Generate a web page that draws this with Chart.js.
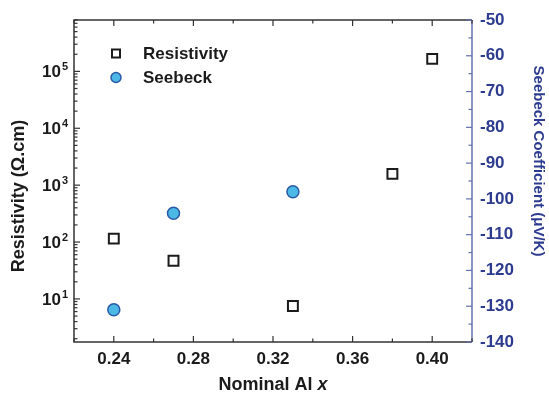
<!DOCTYPE html>
<html>
<head>
<meta charset="utf-8">
<script src="https://cdn.jsdelivr.net/npm/chart.js@4.4.0/dist/chart.umd.min.js"></script>
<style>
  html, body { margin: 0; padding: 0; background: #fff; }
</style>
</head>
<body>
<canvas id="chart" width="549" height="394"></canvas>
<script>
// Resistivity (log, left axis) and Seebeck (linear, right axis) vs nominal Al content
const alContent = [0.24, 0.27, 0.33, 0.38, 0.40];
const resistivity = [115, 47, 7.5, 1580, 166000];
const seebeckAl = [0.24, 0.27, 0.33];
const seebeck = [-131, -104, -98];

const xTicks = [0.24, 0.28, 0.32, 0.36, 0.40];
const xMinorTicks = [0.22, 0.26, 0.30, 0.34, 0.38, 0.42];
const rhoExponents = [1, 2, 3, 4, 5];
const seebeckTicks = [-50, -60, -70, -80, -90, -100, -110, -120, -130, -140];

const FONT = '"Liberation Sans", Arial, sans-serif';
const INK = '#1b1b1b';
const BLUE = '#2c3b8f';
const BLUE_LINE = '#6470ae';

const decor = {
  id: 'decor',
  afterDraw(chart) {
    const { ctx, chartArea: a, scales: { x, y, y1 } } = chart;
    ctx.save();

    // frame
    ctx.lineWidth = 1.5;
    ctx.strokeStyle = '#333';
    ctx.beginPath();
    ctx.moveTo(a.right, a.top);
    ctx.lineTo(a.left, a.top);
    ctx.lineTo(a.left, a.bottom);
    ctx.lineTo(a.right, a.bottom);
    ctx.stroke();
    ctx.strokeStyle = BLUE_LINE;
    ctx.beginPath();
    ctx.moveTo(a.right, a.top);
    ctx.lineTo(a.right, a.bottom);
    ctx.stroke();

    // inward ticks, x (bottom + top)
    ctx.strokeStyle = '#333';
    ctx.lineWidth = 1.2;
    const xt = (v, len) => {
      const px = x.getPixelForValue(v);
      ctx.beginPath();
      ctx.moveTo(px, a.bottom); ctx.lineTo(px, a.bottom - len);
      ctx.moveTo(px, a.top); ctx.lineTo(px, a.top + len);
      ctx.stroke();
    };
    xTicks.forEach(v => xt(v, 6));
    xMinorTicks.forEach(v => xt(v, 3.5));

    // left log ticks
    for (let d = 0; d <= 5; d++) {
      for (let m = 1; m <= 9; m++) {
        const v = m * Math.pow(10, d);
        if (v < y.min || v > y.max) continue;
        const py = y.getPixelForValue(v);
        ctx.beginPath();
        ctx.moveTo(a.left, py);
        ctx.lineTo(a.left + (m === 1 ? 6 : 3.5), py);
        ctx.stroke();
      }
    }

    // right ticks
    ctx.strokeStyle = BLUE_LINE;
    seebeckTicks.forEach(v => {
      let py = y1.getPixelForValue(v);
      ctx.beginPath();
      ctx.moveTo(a.right, py); ctx.lineTo(a.right - 6, py);
      ctx.stroke();
      if (v > -140) {
        py = y1.getPixelForValue(v - 5);
        ctx.beginPath();
        ctx.moveTo(a.right, py); ctx.lineTo(a.right - 3.5, py);
        ctx.stroke();
      }
    });

    // left tick labels 10^n
    ctx.fillStyle = INK;
    rhoExponents.forEach(e => {
      const py = y.getPixelForValue(Math.pow(10, e));
      ctx.font = 'bold 17px ' + FONT;
      ctx.textAlign = 'right';
      ctx.textBaseline = 'middle';
      ctx.fillText('10', 61, py + 1);
      ctx.font = 'bold 11px ' + FONT;
      ctx.textAlign = 'left';
      ctx.textBaseline = 'alphabetic';
      ctx.fillText(String(e), 62, py - 1);
    });

    // left title
    ctx.save();
    ctx.translate(19, 196);
    ctx.rotate(-Math.PI / 2);
    ctx.font = 'bold 18px ' + FONT;
    ctx.textAlign = 'center';
    ctx.textBaseline = 'middle';
    ctx.fillText('Resistivity (\u03A9.cm)', 0, 0);
    ctx.restore();

    // right title
    ctx.save();
    ctx.translate(538, 161);
    ctx.rotate(Math.PI / 2);
    ctx.font = 'bold 15px ' + FONT;
    ctx.fillStyle = BLUE;
    ctx.textAlign = 'center';
    ctx.textBaseline = 'middle';
    ctx.fillText('Seebeck Coefficient (\u03BCV/K)', 0, 0);
    ctx.restore();

    // x title with italic x
    ctx.textBaseline = 'middle';
    ctx.textAlign = 'left';
    const partA = 'Nominal Al ';
    ctx.font = 'bold 18px ' + FONT;
    const wA = ctx.measureText(partA).width;
    ctx.font = 'italic bold 18px ' + FONT;
    const wB = ctx.measureText('x').width;
    const x0 = (a.left + a.right) / 2 - (wA + wB) / 2;
    ctx.font = 'bold 18px ' + FONT;
    ctx.fillText(partA, x0, 385);
    ctx.font = 'italic bold 18px ' + FONT;
    ctx.fillText('x', x0 + wA, 385);

    // legend
    const ds = chart.data.datasets;
    ctx.font = 'bold 17px ' + FONT;
    ctx.fillStyle = INK;
    ctx.fillText(ds[0].label, 143, 54);
    ctx.fillText(ds[1].label, 143, 78);
    ctx.lineWidth = 2;
    ctx.strokeStyle = ds[0].borderColor;
    ctx.fillStyle = '#fff';
    ctx.beginPath();
    ctx.rect(112, 49.5, 8, 8);
    ctx.fill(); ctx.stroke();
    ctx.lineWidth = 1.5;
    ctx.strokeStyle = ds[1].borderColor;
    ctx.fillStyle = ds[1].backgroundColor;
    ctx.beginPath();
    ctx.arc(116, 77.5, 5, 0, Math.PI * 2);
    ctx.fill(); ctx.stroke();

    ctx.restore();
  }
};

new Chart(document.getElementById('chart'), {
  type: 'scatter',
  data: {
    datasets: [
      {
        label: 'Resistivity',
        data: alContent.map((v, i) => ({ x: v, y: resistivity[i] })),
        yAxisID: 'y',
        pointStyle: 'rect',
        pointRadius: 7,
        borderWidth: 2,
        borderColor: INK,
        backgroundColor: 'rgba(255,255,255,0)'
      },
      {
        label: 'Seebeck',
        data: seebeckAl.map((v, i) => ({ x: v, y: seebeck[i] })),
        yAxisID: 'y1',
        pointStyle: 'circle',
        pointRadius: 6,
        borderWidth: 1.5,
        borderColor: '#2a5aa6',
        backgroundColor: '#4cb8e6'
      }
    ]
  },
  options: {
    responsive: false,
    animation: false,
    devicePixelRatio: 1,
    layout: { padding: { top: 20, left: 0, right: 0, bottom: 0 } },
    plugins: {
      legend: { display: false },
      tooltip: { enabled: false }
    },
    scales: {
      x: {
        type: 'linear',
        min: 0.22,
        max: 0.42,
        grid: { display: false, drawTicks: false },
        border: { display: false },
        afterBuildTicks: (s) => { s.ticks = xTicks.map(v => ({ value: v })); },
        afterFit: (s) => { s.height = 52; },
        ticks: {
          autoSkip: false,
          maxRotation: 0,
          padding: 7,
          color: INK,
          font: { family: FONT, size: 17, weight: 'bold' },
          callback: (v) => Number(v).toFixed(2)
        }
      },
      y: {
        type: 'logarithmic',
        position: 'left',
        min: 1.75,
        max: 8e5,
        grid: { display: false, drawTicks: false },
        border: { display: false },
        ticks: { display: false },
        afterFit: (s) => { s.width = 74; }
      },
      y1: {
        type: 'linear',
        position: 'right',
        min: -140,
        max: -50,
        grid: { display: false, drawTicks: false },
        border: { display: false },
        afterBuildTicks: (s) => { s.ticks = seebeckTicks.map(v => ({ value: v })); },
        afterFit: (s) => { s.width = 77; },
        ticks: {
          autoSkip: false,
          padding: 8,
          color: BLUE,
          font: { family: FONT, size: 17, weight: 'bold' }
        }
      }
    }
  },
  plugins: [decor]
});
</script>
</body>
</html>
